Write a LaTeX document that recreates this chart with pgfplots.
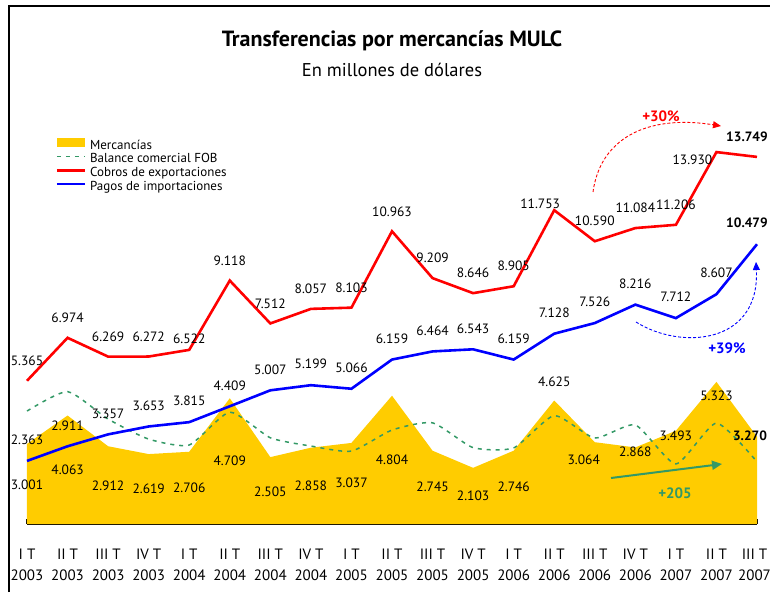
\documentclass[border=0pt]{standalone}
\usepackage{fontspec}
\setmainfont{PT Sans}
\usepackage{pgfplots}
\usepackage{pgfplotstable}
\pgfplotsset{compat=1.18}
\usetikzlibrary{arrows.meta}
\definecolor{amar}{RGB}{255,204,0}
\definecolor{verde}{RGB}{51,153,102}
\definecolor{rojo}{RGB}{255,0,0}
\definecolor{azul}{RGB}{0,0,255}

\pgfplotstableread{
x cobros pagos merc fob
0 5.365 2.363 3.001 4.23
1 6.974 2.911 4.063 4.96
2 6.269 3.357 2.912 3.93
3 6.272 3.653 2.619 3.18
4 6.522 3.815 2.706 2.96
5 9.118 4.409 4.709 4.19
6 7.512 5.007 2.505 3.23
7 8.057 5.199 2.858 2.92
8 8.103 5.066 3.037 2.73
9 10.963 6.159 4.804 3.52
10 9.209 6.464 2.745 3.79
11 8.646 6.543 2.103 2.86
12 8.905 6.159 2.746 2.85
13 11.753 7.128 4.625 4.06
14 10.590 7.526 3.064 3.22
15 11.084 8.216 2.868 3.71
16 11.206 7.712 3.493 2.25
17 13.930 8.607 5.323 3.78
18 13.749 10.479 3.270 2.33
}\datos

\tikzset{lb/.style={font=\fontsize{13.5}{14}\selectfont, inner sep=0pt, anchor=center}}

\begin{document}
\begin{tikzpicture}
\path[use as bounding box] (0,0) rectangle (770pt,592pt);
\begin{axis}[
  at={(27pt,68pt)}, anchor=south west,
  scale only axis, width=730pt, height=523.3pt,
  xmin=0, xmax=18, ymin=0, ymax=19.6,
  axis x line*=bottom, axis y line=none,
  x axis line style={line width=1.5pt, -},
  ytick=\empty,
  xtick={0,...,18},
  xticklabels={{I T\\[-4pt]2003},{II T\\[-4pt]2003},{III T\\[-4pt]2003},{IV T\\[-4pt]2003},
    {I T\\[-4pt]2004},{II T\\[-4pt]2004},{III T\\[-4pt]2004},{IV T\\[-4pt]2004},
    {I T\\[-4pt]2005},{II T\\[-4pt]2005},{III T\\[-4pt]2005},{IV T\\[-4pt]2005},
    {I T\\[-4pt]2006},{II T\\[-4pt]2006},{III T\\[-4pt]2006},{IV T\\[-4pt]2006},
    {I T\\[-4pt]2007},{II T\\[-4pt]2007},{\hspace*{-5pt}III T\\[-4pt]\hspace*{-5pt}2007}},
  xticklabel style={font=\fontsize{15}{25}\selectfont, align=center, yshift=-21pt},
  tick align=inside, major tick length=5pt,
  xtick style={black, line width=1pt},
  clip=false,
  legend cell align=left,
  legend style={at={(axis description cs:0.039,0.7367)}, anchor=north west,
    draw=none, fill=none, inner sep=0pt, outer sep=0pt,
    font=\fontsize{13}{14}\selectfont, row sep=0pt,
    nodes={inner sep=0pt, text height=9.5pt, text depth=4.2pt},
    /tikz/every odd column/.append style={column sep=4pt}},
]
\addplot[fill=amar, draw=none,
  legend image code/.code={\fill[amar] (0pt,-1pt) rectangle (28pt,8pt);}]
  table[x=x, y=merc] {\datos} \closedcycle;
\addlegendentry{Mercancías}
\addplot[verde, line width=1.5pt, dash pattern=on 4pt off 5pt, smooth, tension=0.35,
  legend image code/.code={\draw[verde, line width=1.5pt, dash pattern=on 4pt off 5pt] (0pt,3.5pt) -- (28pt,3.5pt);}]
  table[x=x, y=fob] {\datos};
\addlegendentry{Balance comercial FOB}
\addplot[rojo, line width=2.6pt, line join=miter,
  legend image code/.code={\draw[rojo, line width=2.6pt] (0pt,3.5pt) -- (28pt,3.5pt);}]
  table[x=x, y=cobros] {\datos};
\addlegendentry{Cobros de exportaciones}
\addplot[azul, line width=2.6pt, line join=miter,
  legend image code/.code={\draw[azul, line width=2.6pt] (0pt,3.5pt) -- (28pt,3.5pt);}]
  table[x=x, y=pagos] {\datos};
\addlegendentry{Pagos de importaciones}

% Cobros labels
\node[lb, yshift=20pt] at (axis cs:0,5.365) {5.365};
\node[lb, yshift=20pt] at (axis cs:1,6.974) {6.974};
\node[lb, yshift=20pt] at (axis cs:2,6.269) {6.269};
\node[lb, yshift=20pt] at (axis cs:3,6.272) {6.272};
\node[lb, yshift=11pt] at (axis cs:4,6.522) {6.522};
\node[lb, yshift=20pt] at (axis cs:5,9.118) {9.118};
\node[lb, yshift=20pt] at (axis cs:6,7.512) {7.512};
\node[lb, yshift=20pt] at (axis cs:7,8.057) {8.057};
\node[lb, yshift=20pt] at (axis cs:8,8.103) {8.103};
\node[lb, yshift=20pt] at (axis cs:9,10.963) {10.963};
\node[lb, yshift=20pt] at (axis cs:10,9.209) {9.209};
\node[lb, yshift=20pt] at (axis cs:11,8.646) {8.646};
\node[lb, yshift=20pt] at (axis cs:12,8.905) {8.905};
\node[lb, xshift=-14pt, yshift=6pt] at (axis cs:13,11.753) {11.753};
\node[lb, yshift=20pt] at (axis cs:14,10.590) {10.590};
\node[lb, yshift=20pt] at (axis cs:15,11.084) {11.084};
\node[lb, yshift=20pt] at (axis cs:16,11.206) {11.206};
\node[lb, xshift=-24pt, yshift=-7.5pt] at (axis cs:17,13.930) {13.930};
\node[lb, font=\fontsize{13.5}{14}\selectfont\bfseries, xshift=-10pt, yshift=20pt] at (axis cs:18,13.749) {13.749};

% Pagos labels
\node[lb, yshift=21pt] at (axis cs:0,2.363) {2.363};
\node[lb, yshift=21pt] at (axis cs:1,2.911) {2.911};
\node[lb, yshift=21pt] at (axis cs:2,3.357) {3.357};
\node[lb, yshift=21pt] at (axis cs:3,3.653) {3.653};
\node[lb, yshift=21pt] at (axis cs:4,3.815) {3.815};
\node[lb, yshift=21pt] at (axis cs:5,4.409) {4.409};
\node[lb, yshift=21pt] at (axis cs:6,5.007) {5.007};
\node[lb, yshift=21pt] at (axis cs:7,5.199) {5.199};
\node[lb, yshift=21pt] at (axis cs:8,5.066) {5.066};
\node[lb, yshift=21pt] at (axis cs:9,6.159) {6.159};
\node[lb, yshift=21pt] at (axis cs:10,6.464) {6.464};
\node[lb, yshift=21pt] at (axis cs:11,6.543) {6.543};
\node[lb, yshift=21pt] at (axis cs:12,6.159) {6.159};
\node[lb, yshift=21pt] at (axis cs:13,7.128) {7.128};
\node[lb, yshift=21pt] at (axis cs:14,7.526) {7.526};
\node[lb, yshift=21pt] at (axis cs:15,8.216) {8.216};
\node[lb, yshift=21pt] at (axis cs:16,7.712) {7.712};
\node[lb, yshift=21pt] at (axis cs:17,8.607) {8.607};
\node[lb, font=\fontsize{13.5}{14}\selectfont\bfseries, xshift=-10pt, yshift=21pt] at (axis cs:18,10.479) {10.479};

% Mercancias labels
\node[lb] at (axis cs:0,1.461) {3.001};
\node[lb] at (axis cs:1,2.022) {4.063};
\node[lb] at (axis cs:2,1.434) {2.912};
\node[lb] at (axis cs:3,1.311) {2.619};
\node[lb] at (axis cs:4,1.348) {2.706};
\node[lb] at (axis cs:5,2.371) {4.709};
\node[lb] at (axis cs:6,1.210) {2.505};
\node[lb] at (axis cs:7,1.423) {2.858};
\node[lb] at (axis cs:8,1.536) {3.037};
\node[lb] at (axis cs:9,2.397) {4.804};
\node[lb] at (axis cs:10,1.397) {2.745};
\node[lb] at (axis cs:11,1.049) {2.103};
\node[lb] at (axis cs:12,1.397) {2.746};
\node[lb] at (axis cs:13,5.318) {4.625};
\node[lb, xshift=-11pt] at (axis cs:14,2.397) {3.064};
\node[lb] at (axis cs:15,2.708) {2.868};
\node[lb] at (axis cs:16,3.307) {3.493};
\node[lb] at (axis cs:17,4.794) {5.323};
\node[lb, font=\fontsize{13.5}{14}\selectfont\bfseries, xshift=-7pt] at (axis cs:18,3.307) {3.270};
\end{axis}

% frame
\draw[line width=2pt, line join=miter] (9pt,0pt) -- (9pt,586.3pt) -- (770pt,586.3pt);

% titles
\node[font=\fontsize{22}{24}\selectfont\bfseries] at (392pt,551pt) {Transferencias por mercancías MULC};
\node[font=\fontsize{18.5}{20}\selectfont] at (392pt,522pt) {En millones de dólares};

% annotations
\draw[rojo, line width=0.9pt, dash pattern=on 3pt off 2pt, -{Triangle[length=8pt,width=7pt]}]
  (593pt,400pt) .. controls (600pt,452pt) and (645pt,478pt) .. (721pt,466pt);
\node[font=\fontsize{15}{16}\selectfont\bfseries, text=rojo] at (661pt,476pt) {+30\%};
\draw[azul, line width=0.9pt, dash pattern=on 3pt off 2pt, -{Triangle[length=8pt,width=7pt]}]
  (636pt,270pt) .. controls (680pt,242pt) and (760pt,247pt) .. (756pt,330pt);
\node[font=\fontsize{15}{16}\selectfont\bfseries, text=azul] at (727pt,244pt) {+39\%};
\draw[verde, line width=2pt, -{Triangle[length=10pt,width=9pt]}] (611pt,114pt) -- (722pt,128pt);
\node[font=\fontsize{15}{16}\selectfont\bfseries, text=verde] at (675pt,99pt) {+205};
\end{tikzpicture}
\end{document}
